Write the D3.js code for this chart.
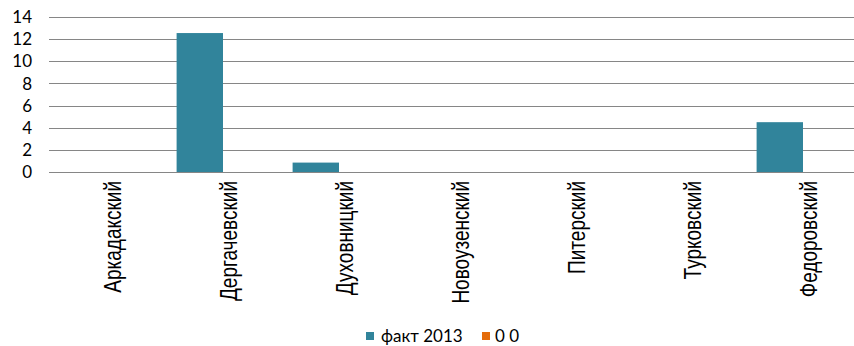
<!DOCTYPE html>
<html><head><meta charset="utf-8">
<script src="https://cdn.jsdelivr.net/npm/d3@7"></script>
<style>body{margin:0;background:#fff}svg{display:block}</style>
</head><body>
<svg id="c" width="854" height="346"></svg>
<script>
const categories = ["Аркадакский","Дергачевский","Духовницкий","Новоузенский","Питерский","Турковский","Федоровский"];
const seriesNames = ["факт 2013","0 0"];
const fakt2013 = [0, 12.55, 0.85, 0, 0, 0, 4.5];
const zeroSeries = [0, 0, 0, 0, 0, 0, 0];
const yTicks = [0,2,4,6,8,10,12,14];
const colors = ["#31849B","#E46C0A"];

(function(){
const svg = d3.select("#c");
const pL = 49, pR = 861, pT = 17, pB = 172;
const x0 = d3.scaleBand().domain(categories).range([pL,pR]).paddingInner(0.2).paddingOuter(0.1);
const x1 = d3.scaleBand().domain(seriesNames).range([0,x0.bandwidth()]);
const y = d3.scaleLinear().domain([0,14]).range([pB,pT]);

// gridlines
svg.append("g").selectAll("line").data(yTicks).join("line")
  .attr("x1",pL).attr("x2",854).attr("y1",d=>Math.round(y(d))+0.5).attr("y2",d=>Math.round(y(d))+0.5)
  .attr("stroke","#868686").attr("stroke-width",1);

// y labels
svg.append("g").selectAll("text").data(yTicks).join("text")
  .attr("x",32).attr("y",d=>y(d)).attr("dy","0.36em").attr("text-anchor","end")
  .attr("font-family","Lato").attr("font-size",17).attr("fill","#000").text(d=>d);

// bars
const series = [fakt2013, zeroSeries];
series.forEach((vals,si)=>{
  svg.append("g").selectAll("rect").data(vals).join("rect")
    .attr("x",(d,i)=>x0(categories[i])+x1(seriesNames[si]))
    .attr("width",x1.bandwidth())
    .attr("y",d=>y(d)).attr("height",d=>y(0)-y(d))
    .attr("fill",colors[si]);
});

// x labels
svg.append("g").selectAll("text").data(categories).join("text")
  .attr("transform",d=>`translate(${x0(d)+x0.bandwidth()/2+6},181) rotate(-90) scale(1,1.25)`)
  .attr("text-anchor","end").attr("dy","0.35em")
  .attr("font-family","Liberation Sans").attr("font-size",19).attr("fill","#000").text(d=>d);

// legend
const leg = [{name:seriesNames[0],c:colors[0],sx:366,tx:381},{name:seriesNames[1],c:colors[1],sx:482,tx:495}];
leg.forEach(l=>{
  svg.append("rect").attr("x",l.sx).attr("y",332).attr("width",8).attr("height",8).attr("fill",l.c);
  svg.append("text").attr("x",l.tx).attr("y",342).attr("font-family","Lato").attr("font-size",17).attr("fill","#000").text(l.name);
});
})();
</script>
</body></html>
